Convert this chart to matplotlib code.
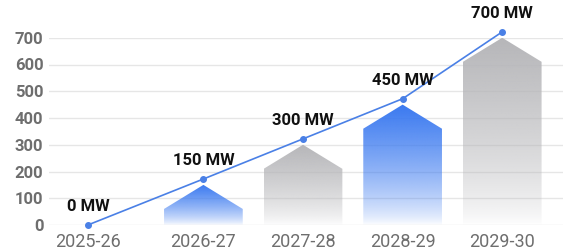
import numpy as np
import matplotlib.pyplot as plt
from matplotlib.patches import Polygon
from matplotlib.colors import to_rgb

years = ['2025-26', '2026-27', '2027-28', '2028-29', '2029-30']
capacity_mw = [0, 150, 300, 450, 700]
labels = ['0 MW', '150 MW', '300 MW', '450 MW', '700 MW']
y_ticks = [0, 100, 200, 300, 400, 500, 600, 700]

plt.rcParams['font.family'] = ['Roboto', 'DejaVu Sans']

fig = plt.figure(figsize=(5.63, 2.5), dpi=100)
ax = fig.add_axes([49 / 563, 0.1, (563 - 49) / 563, 0.749])

n = len(years)
# the first gap in the original is a little wider than the others
xpos = np.arange(n) + np.where(np.arange(n) > 0, 0.16, 0.0)

bar_w = 0.79
roof = 90  # height of the triangular top, data units
colors = [None, '#3a79f0', '#b6b6b9', '#3a79f0', '#b6b6b9']

for x, v, c in zip(xpos, capacity_mw, colors):
    if v <= 0:
        continue
    x0, x1 = x - bar_w / 2, x + bar_w / 2
    shoulder = v - roof
    house = Polygon([(x0, 0), (x0, shoulder), (x, v), (x1, shoulder), (x1, 0)],
                    closed=True, facecolor='none', edgecolor='none')
    ax.add_patch(house)
    grad = np.zeros((256, 1, 4))
    grad[..., :3] = to_rgb(c)
    grad[:, 0, 3] = np.linspace(1, 0, 256) ** 0.7
    im = ax.imshow(grad, extent=(x0, x1, 0, v), aspect='auto', origin='upper',
                   zorder=2, interpolation='bilinear')
    im.set_clip_path(house)

# line sits a little above the roof tips (the zero point stays on the baseline)
cap = np.array(capacity_mw)
lift = np.where(cap > 0, 22, 0)
ax.plot(xpos, cap + lift, '-o', color='#4a80e6', lw=1.2, ms=4,
        zorder=4, clip_on=False)

for x, v, t in zip(xpos, cap + lift, labels):
    ax.annotate(t, (x, v), xytext=(0, 13), textcoords='offset points',
                ha='center', va='center', fontsize=12, fontweight='bold',
                color='#111111', zorder=5, annotation_clip=False)

ax.set_xlim(-0.39, 4.77)
ax.set_ylim(0, 700)
ax.set_xticks(xpos)
ax.set_xticklabels(years)
ax.set_yticks(y_ticks)
ax.tick_params(axis='y', length=0, pad=4, labelsize=12, labelcolor='#6e6e6e')
ax.tick_params(axis='x', length=0, pad=6, labelsize=13, labelcolor='#6e6e6e')
for lab in ax.get_yticklabels():
    lab.set_fontweight('bold')
ax.grid(axis='y', color='#e6e6e6', lw=1)
ax.set_axisbelow(True)
for s in ax.spines.values():
    s.set_visible(False)

fig.savefig('out.png', dpi=100)
